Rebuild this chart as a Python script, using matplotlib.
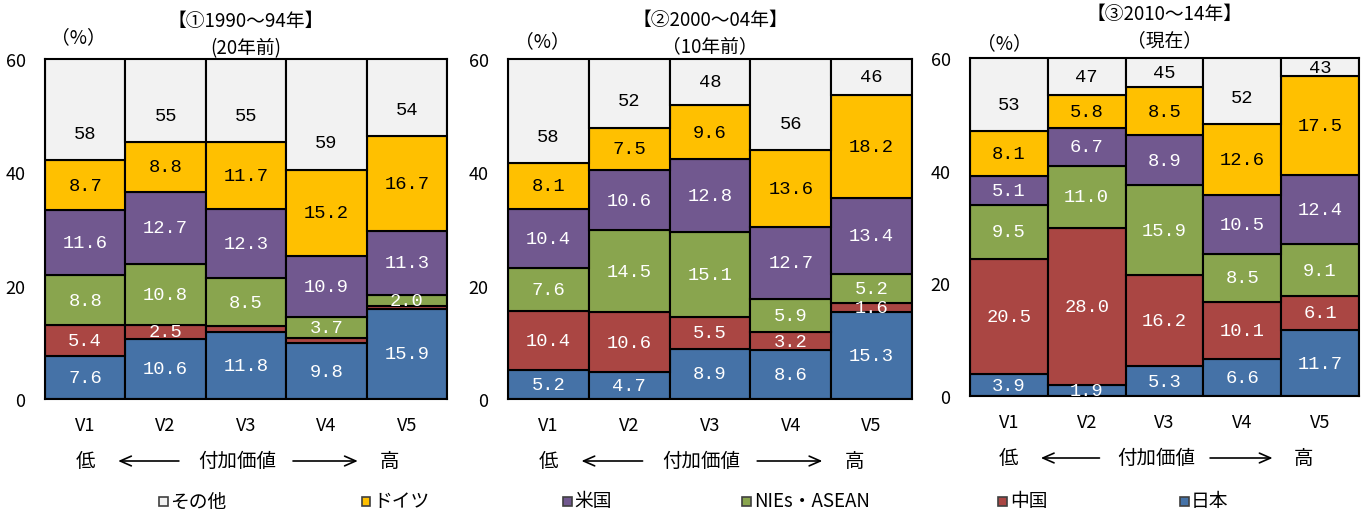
import matplotlib.pyplot as plt
from matplotlib.patches import Rectangle
import numpy as np

plt.rcParams['font.family'] = ['Noto Sans CJK JP', 'DejaVu Sans']

cats = ['V1', 'V2', 'V3', 'V4', 'V5']
series = ['日本', '中国', 'NIEs・ASEAN', '米国', 'ドイツ', 'その他']
colors = ['#4572A7', '#AA4643', '#89A54E', '#71588F', '#FFC000', '#F2F2F2']
text_colors = ['white', 'white', 'white', 'white', 'black', 'black']

titles = ['【①1990～94年】', '【②2000～04年】', '【③2010～14年】']
subtitles = ['(20年前)', '（10年前）', '（現在）']

# 1990-94
p1_japan = [7.6, 10.6, 11.8, 9.8, 15.9]
p1_china = [5.4, 2.5, 1.0, 0.9, 0.5]
p1_nies = [8.8, 10.8, 8.5, 3.7, 2.0]
p1_us = [11.6, 12.7, 12.3, 10.9, 11.3]
p1_de = [8.7, 8.8, 11.7, 15.2, 16.7]
p1_other = [58, 55, 55, 59, 54]
p1_show = [True, True, False, False, False]  # china labels shown?

# 2000-04
p2_japan = [5.2, 4.7, 8.9, 8.6, 15.3]
p2_china = [10.4, 10.6, 5.5, 3.2, 1.6]
p2_nies = [7.6, 14.5, 15.1, 5.9, 5.2]
p2_us = [10.4, 10.6, 12.8, 12.7, 13.4]
p2_de = [8.1, 7.5, 9.6, 13.6, 18.2]
p2_other = [58, 52, 48, 56, 46]
p2_show = [True] * 5

# 2010-14
p3_japan = [3.9, 1.9, 5.3, 6.6, 11.7]
p3_china = [20.5, 28.0, 16.2, 10.1, 6.1]
p3_nies = [9.5, 11.0, 15.9, 8.5, 9.1]
p3_us = [5.1, 6.7, 8.9, 10.5, 12.4]
p3_de = [8.1, 5.8, 8.5, 12.6, 17.5]
p3_other = [53, 47, 45, 52, 43]
p3_show = [True] * 5

panels = [
    [p1_japan, p1_china, p1_nies, p1_us, p1_de, p1_other],
    [p2_japan, p2_china, p2_nies, p2_us, p2_de, p2_other],
    [p3_japan, p3_china, p3_nies, p3_us, p3_de, p3_other],
]
china_show = [p1_show, p2_show, p3_show]

W, H = 1365, 510
fig = plt.figure(figsize=(W / 100, H / 100), dpi=100)

# axes boxes in pixels: left, top, right, bottom
boxes = [(45, 60, 447, 400), (508, 60, 912, 400), (970, 59, 1359, 397)]
title_y = [(21, 49, 38, 78), (20, 47, 42, 542), (14, 41, 44, 1004)]

num_font = ['Liberation Mono', 'DejaVu Sans Mono']

for i, data in enumerate(panels):
    l, t, r, b = boxes[i]
    ax = fig.add_axes([l / W, 1 - b / H, (r - l) / W, (b - t) / H])
    x = np.arange(len(cats))
    bottom = np.zeros(len(cats))
    for k, vals in enumerate(data):
        vals = np.array(vals, dtype=float)
        ax.bar(x, vals, 1.0, bottom=bottom, color=colors[k],
               edgecolor='black', linewidth=1.5)
        for j in range(len(cats)):
            if k == 5:
                y = min(bottom[j] + 4.7, (bottom[j] + 60) / 2)
                ax.text(x[j], y, f'{vals[j]:.0f}', ha='center', va='center',
                        fontsize=13.5, color='black', family=num_font)
            else:
                if k == 1 and not china_show[i][j]:
                    continue
                ax.text(x[j], bottom[j] + vals[j] / 2, f'{vals[j]:.1f}',
                        ha='center', va='center', fontsize=13.5,
                        color=text_colors[k], family=num_font)
        bottom += vals
    ax.set_xlim(-0.5, 4.5)
    ax.set_ylim(0, 60)
    ax.set_yticks([0, 20, 40, 60])
    ax.set_xticks(x)
    ax.set_xticklabels(cats)
    ax.tick_params(length=0, labelsize=13)
    ax.tick_params(axis='y', pad=14)
    ax.tick_params(axis='x', pad=12)
    for s in ax.spines.values():
        s.set_linewidth(1.5)

    ty, sy, py, px = title_y[i]
    cx = (l + r) / 2
    fig.text(cx / W, 1 - ty / H, titles[i], ha='center', va='center', fontsize=13.5)
    fig.text(cx / W, 1 - sy / H, subtitles[i], ha='center', va='center', fontsize=13.5)
    fig.text(px / W, 1 - py / H, '（%）', ha='center', va='center', fontsize=13.5)

    # value-added arrow row
    ay = -62 / (b - t)
    ax.text(0.10, ay, '低', transform=ax.transAxes, ha='center', va='center', fontsize=14)
    ax.text(0.478, ay, '付加価値', transform=ax.transAxes, ha='center', va='center', fontsize=14)
    ax.text(0.858, ay, '高', transform=ax.transAxes, ha='center', va='center', fontsize=14)
    ax.annotate('', xy=(0.175, ay), xytext=(0.34, ay), xycoords='axes fraction',
                arrowprops=dict(arrowstyle='->,head_length=0.8,head_width=0.35', lw=1.2, color='black'))
    ax.annotate('', xy=(0.785, ay), xytext=(0.61, ay), xycoords='axes fraction',
                arrowprops=dict(arrowstyle='->,head_length=0.8,head_width=0.35', lw=1.2, color='black'))

# legend row
leg_order = [5, 4, 3, 2, 1, 0]
leg_x = [163, 366, 567, 747, 1003, 1184]
for k, lx in zip(leg_order, leg_x):
    s = 9
    fig.patches.append(Rectangle(((lx - s / 2) / W, 1 - (502 + s / 2) / H), s / W, s / H,
                                 transform=fig.transFigure, facecolor=colors[k],
                                 edgecolor='#404040', linewidth=1.2))
    fig.text((lx + 7) / W, 1 - 502 / H, series[k], ha='left', va='center', fontsize=13.5)

fig.savefig('out.png', dpi=100)
